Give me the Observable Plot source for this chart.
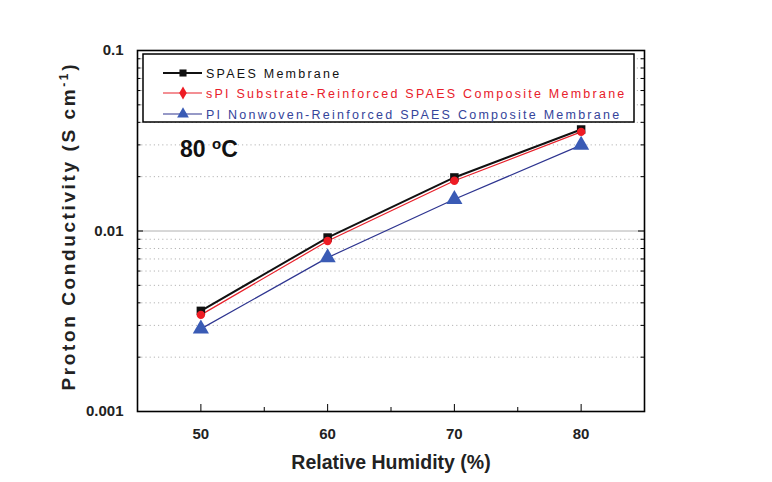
<!DOCTYPE html>
<html>
<head>
<meta charset="utf-8">
<script src="https://cdn.jsdelivr.net/npm/d3@7"></script>
<script src="https://cdn.jsdelivr.net/npm/@observablehq/plot@0.6"></script>
<style>
  html, body { margin: 0; padding: 0; background: white; }
  #chart { width: 772px; height: 482px; }
</style>
</head>
<body>
<div id="chart"></div>
<script>
// ---- data ----
const humidity = [50, 60, 70, 80];
const spaesMembrane = [0.00361, 0.0092, 0.0198, 0.0365];
const spiReinforced = [0.00343, 0.0088, 0.0190, 0.0354];
const piNonwoven = [0.00287, 0.00712, 0.0150, 0.0299];
const seriesNames = [
  "SPAES Membrane",
  "sPI Substrate-Reinforced SPAES Composite Membrane",
  "PI Nonwoven-Reinforced SPAES Composite Membrane"
];
const xMajorTicks = [50, 60, 70, 80];
const xMinorTicks = [55, 65, 75];
const yMajorTicks = [0.001, 0.01, 0.1];
const yTickLabels = ["0.001", "0.01", "0.1"];
const yMinorTicks = [0.002, 0.003, 0.004, 0.005, 0.006, 0.007, 0.008, 0.009,
                     0.02, 0.03, 0.04, 0.05, 0.06, 0.07, 0.08, 0.09];
const xLabel = "Relative Humidity (%)";
const yLabel = "Proton Conductivity (S cm";
const annotation = "80";

// ---- styles ----
const W = 772, H = 482;
const mL = 137, mR = 128, mT = 50, mB = 71;
const innerW = W - mL - mR, innerH = H - mT - mB;
const styles = [
  {stroke: "#111111", fill: "#111111", lineWidth: 2, symbol: "square", r: 4.8, text: "#111111"},
  {stroke: "#e8202a", fill: "#ee1c24", lineWidth: 1.2, symbol: "circle", r: 4.2, text: "#e8202a"},
  {stroke: "#2e3590", fill: "#3a5bb5", lineWidth: 1.2, symbol: "triangle", r: 6, text: "#34449a"}
];
const seriesValues = [spaesMembrane, spiReinforced, piNonwoven];
const tables = seriesValues.map((vals, s) => humidity.map((h, i) => ({x: h, y: vals[i], series: seriesNames[s]})));

const sans = "'Liberation Sans', Arial, sans-serif";

const marks = [
  Plot.ruleY(yMinorTicks, {stroke: "#b5b5b5", strokeDasharray: "1.2,3"}),
  Plot.ruleY([0.01], {stroke: "#b0b0b0", strokeWidth: 1})
];
tables.forEach((t, s) => {
  const st = styles[s];
  marks.push(Plot.line(t, {x: "x", y: "y", stroke: st.stroke, strokeWidth: st.lineWidth}));
});
tables.forEach((t, s) => {
  const st = styles[s];
  marks.push(Plot.dot(t, {x: "x", y: "y", symbol: () => st.symbol, r: st.r, fill: st.fill, stroke: "none"}));
});
// inward ticks
marks.push(
  Plot.ruleY(yMajorTicks, {insetRight: innerW - 6, stroke: "#000"}),
  Plot.ruleY(yMinorTicks, {insetRight: innerW - 3.5, stroke: "#000"}),
  Plot.ruleY(yMajorTicks, {insetLeft: innerW - 6, stroke: "#000"}),
  Plot.ruleY(yMinorTicks, {insetLeft: innerW - 3.5, stroke: "#000"}),
  Plot.ruleX(xMajorTicks, {insetTop: innerH - 7, stroke: "#000"}),
  Plot.ruleX(xMinorTicks, {insetTop: innerH - 4, stroke: "#000"}),
  Plot.frame({stroke: "#000", strokeWidth: 1.6}),
  Plot.axisY(yMajorTicks, {tickSize: 0, tickPadding: 14, label: null,
    tickFormat: d => yTickLabels[yMajorTicks.indexOf(d)],
    fontSize: 15, fontWeight: "bold", fontFamily: sans, fill: "#222"}),
  Plot.axisX(xMajorTicks, {tickSize: 0, tickPadding: 17, label: null,
    tickFormat: d => String(d),
    fontSize: 15, fontWeight: "bold", fontFamily: sans, fill: "#222"}),
  Plot.text([xLabel], {frameAnchor: "bottom", dy: 57, text: d => d, fontSize: 19.5,
    fontFamily: sans, fontWeight: "bold", fill: "#222"})
);

const plot = Plot.plot({
  width: W, height: H,
  marginLeft: mL, marginRight: mR, marginTop: mT, marginBottom: mB,
  x: {domain: [45, 85], axis: null},
  y: {type: "log", domain: [0.001, 0.1], axis: null},
  style: {background: "white", fontFamily: sans, overflow: "visible"},
  marks
});
document.getElementById("chart").append(plot);

// ---- extra text & legend appended to the SVG ----
const svg = d3.select(plot);

// y-axis title with superscript
const yt = svg.append("text")
  .attr("transform", `translate(75,${(mT + H - mB) / 2 - 3}) rotate(-90)`)
  .attr("text-anchor", "middle")
  .attr("font-family", sans)
  .attr("font-size", 19).attr("font-weight", "bold").attr("fill", "#222")
  .attr("textLength", 326).attr("lengthAdjust", "spacing");
yt.append("tspan").text(yLabel);
yt.append("tspan").attr("dy", -7).attr("font-size", 12).text("-1");
yt.append("tspan").attr("dy", 7).text(")");

// annotation 80 oC
const an = svg.append("text")
  .attr("x", 180).attr("y", 157)
  .attr("text-anchor", "start")
  .attr("font-family", sans)
  .attr("font-size", 23).attr("font-weight", "bold").attr("fill", "#111");
an.append("tspan").text(annotation + " ");
an.append("tspan").attr("dy", -8).attr("font-size", 15).text("o");
an.append("tspan").attr("dy", 8).text("C");

// legend
const lg = svg.append("g");
lg.append("rect").attr("x", 143).attr("y", 54).attr("width", 491).attr("height", 68)
  .attr("fill", "white").attr("stroke", "#000").attr("stroke-width", 1.5);
const rowY = [73, 93, 114];
seriesNames.forEach((name, s) => {
  const st = styles[s];
  const y = rowY[s];
  lg.append("line").attr("x1", 163).attr("x2", 202).attr("y1", y).attr("y2", y)
    .attr("stroke", st.stroke).attr("stroke-width", st.lineWidth);
  const sym = d3.symbol().type(st.symbol === "square" ? d3.symbolSquare : st.symbol === "circle" ? d3.symbolDiamond : d3.symbolTriangle)
    .size(st.symbol === "triangle" ? 60 : 50);
  lg.append("path").attr("d", sym()).attr("transform", `translate(183,${y})`).attr("fill", st.fill);
  lg.append("text").attr("x", 206).attr("y", y + 4.5)
    .attr("text-anchor", "start")
    .attr("font-family", sans)
    .attr("font-size", 12.5).attr("letter-spacing", "2.25px").attr("fill", st.text)
    .text(name);
});
</script>
</body>
</html>
